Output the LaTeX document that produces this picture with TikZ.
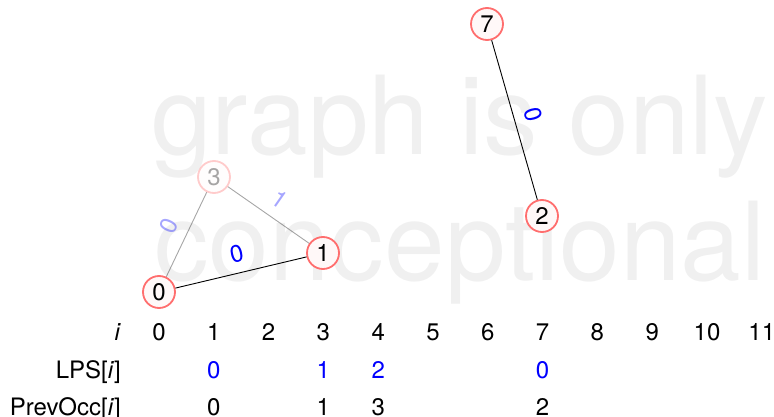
\documentclass[tikz,border=0pt]{standalone}
\usepackage{fontspec}
\setmainfont{TeX Gyre Heros}
\definecolor{nodered}{RGB}{255,110,110}
\definecolor{nodefill}{RGB}{255,248,248}
\definecolor{wm}{RGB}{240,240,240}
\definecolor{lblue}{RGB}{0,0,255}
\begin{document}
\begin{tikzpicture}[x=1pt,y=-1pt,
  vtx/.style={circle,draw=nodered,line width=1.8pt,fill=nodefill,minimum size=32pt,inner sep=0pt,font=\fontsize{24}{24}\selectfont},
  edgeline/.style={draw=black,line width=0.9pt},
  elab/.style={midway,sloped,above,inner sep=10pt,text=lblue,font=\fontsize{24}{24}\selectfont},
  faded/.style={opacity=0.35},
  wmark/.style={anchor=base west,inner sep=0pt,text=wm,font=\fontsize{109}{109}\selectfont},
  tab/.style={anchor=base,inner sep=0pt,font=\fontsize{24}{24}\selectfont},
  rowlab/.style={anchor=base east,inner sep=0pt,font=\fontsize{24}{24}\selectfont}
]
\useasboundingbox (0,0) rectangle (774,417);
% watermark
\node[wmark] (wm1) at (151,155) {graph is only};
\node[wmark] (wm2) at (154,280) {conceptional};
% vertices
\node[vtx] (n0) at (159,292) {0};
\node[vtx] (n1) at (323,253) {1};
\node[vtx,faded] (n3) at (214,177) {3};
\node[vtx] (n7) at (487,24) {7};
\node[vtx] (n2) at (542,216) {2};
% edges
\draw[edgeline,faded] (n0) -- node[elab] (l03) {0} (n3);
\draw[edgeline,faded] (n3) -- node[elab] (l31) {1} (n1);
\draw[edgeline] (n0) -- node[elab] (l01) {0} (n1);
\draw[edgeline] (n7) -- node[elab] (l72) {0} (n2);
% table
\node[rowlab] (ri) at (121,340) {\textit{i}};
\node[rowlab] (rl) at (121,378) {LPS[\textit{i}]};
\node[rowlab] (rp) at (121,415) {PrevOcc[\textit{i}]};
\foreach \k in {0,...,11} {
  \node[tab] (c\k) at ({159+54.8*\k},340) {\k};
}
\node[tab,text=lblue] (lps1) at ({159+54.8*1},378) {0};
\node[tab,text=lblue] (lps3) at ({159+54.8*3},378) {1};
\node[tab,text=lblue] (lps4) at ({159+54.8*4},378) {2};
\node[tab,text=lblue] (lps7) at ({159+54.8*7},378) {0};
\node[tab] (po1) at ({159+54.8*1},415) {0};
\node[tab] (po3) at ({159+54.8*3},415) {1};
\node[tab] (po4) at ({159+54.8*4},415) {3};
\node[tab] (po7) at ({159+54.8*7},415) {2};
\end{tikzpicture}
\end{document}
